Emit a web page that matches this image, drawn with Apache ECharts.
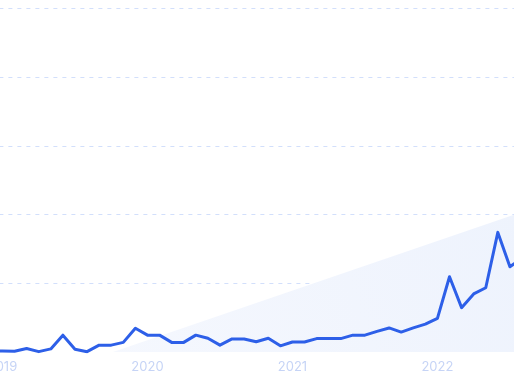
<!DOCTYPE html>
<html>
<head>
<meta charset="utf-8">
<script src="https://cdn.jsdelivr.net/npm/echarts@6/dist/echarts.min.js"></script>
<style>
html,body{margin:0;padding:0;background:#fff;}
#chart{width:514px;height:386px;}
</style>
</head>
<body>
<div id="chart"></div>
<script>
// Months Dec 2018 .. Aug 2022
const months = [
  '2018-12',
  '2019-01','2019-02','2019-03','2019-04','2019-05','2019-06','2019-07','2019-08','2019-09','2019-10','2019-11','2019-12',
  '2020-01','2020-02','2020-03','2020-04','2020-05','2020-06','2020-07','2020-08','2020-09','2020-10','2020-11','2020-12',
  '2021-01','2021-02','2021-03','2021-04','2021-05','2021-06','2021-07','2021-08','2021-09','2021-10','2021-11','2021-12',
  '2022-01','2022-02','2022-03','2022-04','2022-05','2022-06','2022-07','2022-08'
];
const interest = [
  0.3,
  0.3, 0.2, 1.0, 0.1, 0.9, 4.9, 0.8, 0.1, 2.0, 2.0, 2.8, 6.9,
  4.9, 4.9, 2.8, 2.8, 4.9, 4.0, 2.0, 3.8, 3.8, 3.0, 4.0, 1.8,
  2.9, 2.9, 3.9, 3.9, 3.9, 4.9, 4.9, 6.0, 7.0, 5.8, 7.0, 8.1,
  9.8, 21.9, 12.9, 16.9, 18.7, 34.8, 24.8, 27.3
];
// Trend line endpoints (first and last month), straight line between
const trendStart = -12.2;
const trendEnd = 40.7;
const trend = months.map((m, i) => i === 0 ? trendStart : (i === months.length - 1 ? trendEnd : null));
const yTicks = [0, 20, 40, 60, 80, 100];

const chart = echarts.init(document.getElementById('chart'), null, {renderer: 'canvas'});
chart.setOption({
  animation: false,
  backgroundColor: '#ffffff',
  grid: {left: -9.6, right: -8, top: 8.3, bottom: 34, containLabel: false, outerBoundsMode: 'none'},
  xAxis: {
    type: 'category',
    data: months,
    boundaryGap: false,
    axisLine: {show: false},
    axisTick: {show: false},
    splitLine: {show: false},
    axisLabel: {
      interval: (idx, val) => val.endsWith('-01'),
      formatter: (val) => val.slice(0, 4),
      color: '#c6d4f6',
      fontFamily: 'Inter',
      fontSize: 13,
      margin: 9
    }
  },
  yAxis: {
    type: 'value',
    min: yTicks[0],
    max: yTicks[yTicks.length - 1],
    interval: 20,
    axisLabel: {show: false},
    axisLine: {show: false},
    axisTick: {show: false},
    splitLine: {
      show: true,
      showMinLine: false,
      lineStyle: {color: '#d2dffb', type: [4, 5], width: 1}
    }
  },
  series: [
    {
      type: 'line',
      data: trend,
      connectNulls: true,
      symbol: 'none',
      clip: true,
      lineStyle: {width: 0, opacity: 0},
      areaStyle: {
        color: new echarts.graphic.LinearGradient(0, 1, 1, 0, [
          {offset: 0, color: '#f7f9fe'},
          {offset: 1, color: '#eef3fd'}
        ]),
        opacity: 1
      },
      z: 1
    },
    {
      type: 'line',
      data: interest,
      symbol: 'none',
      clip: true,
      lineStyle: {color: '#2d5fe8', width: 3, join: 'round'},
      z: 3
    }
  ]
});
</script>
</body>
</html>
